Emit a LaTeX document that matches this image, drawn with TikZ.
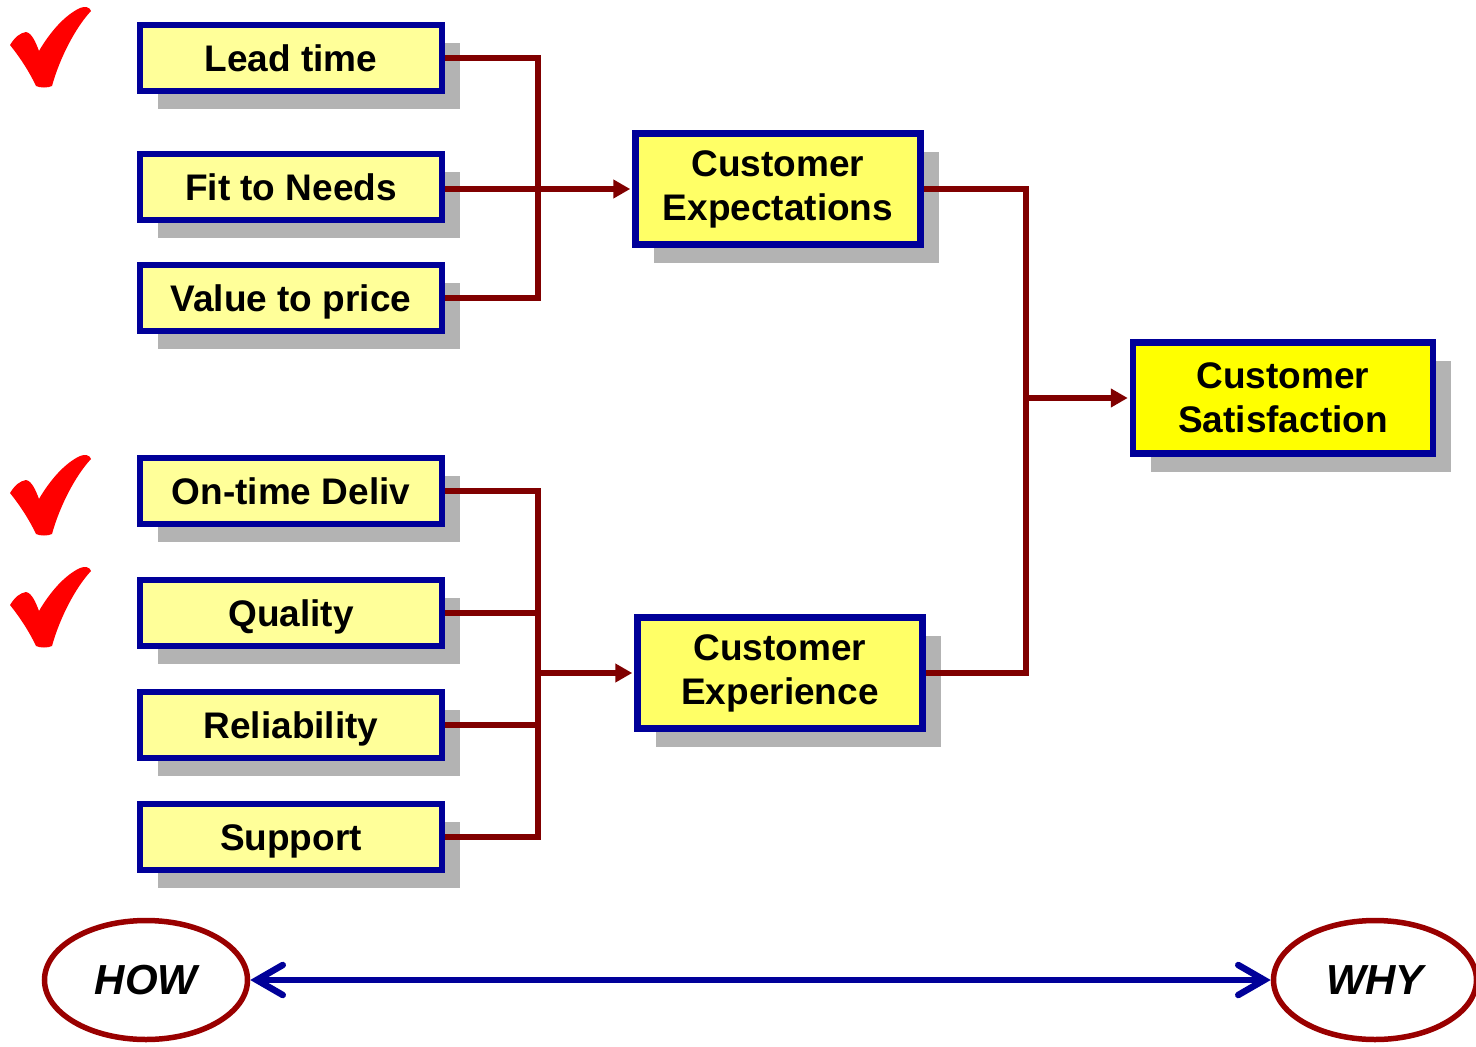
\documentclass[tikz,border=0pt]{standalone}
\usepackage{fontspec}
\setmainfont{Liberation Sans}
\usepackage{tikz}
\usetikzlibrary{arrows.meta,shapes.geometric,shadows}
\definecolor{boxblue}{HTML}{000099}
\definecolor{paleyellow}{HTML}{FFFF99}
\definecolor{midyellow}{HTML}{FFFF66}
\definecolor{fullyellow}{HTML}{FFFF00}
\definecolor{shadowgray}{HTML}{B3B3B3}
\definecolor{linkred}{HTML}{800000}
\definecolor{ovalred}{HTML}{990000}
\definecolor{tickred}{HTML}{FF0000}

\begin{document}
\begin{tikzpicture}[x=1pt, y=-1pt, line width=5pt,
        every node/.append style={font=\fontsize{37}{44}\selectfont\bfseries, align=center},
        checkmark/.pic={
          \fill[tickred] (0,38) .. controls (5,30) and (10,26) .. (16,25)
            .. controls (22,26) and (26,36) .. (29,44)
            .. controls (40,25) and (55,8) .. (70,1)
            .. controls (75,-1) and (80,0) .. (81,4)
            .. controls (66,20) and (50,50) .. (42,79)
            .. controls (38,81) and (30,81) .. (26,79)
            .. controls (18,62) and (8,48) .. (0,38) -- cycle;
        }]
      \tikzstyle{shadowed} = [draw=boxblue, line width=6.5pt, inner sep=0pt,
        drop shadow={shadow xshift=18pt, shadow yshift=-18pt, fill=shadowgray, opacity=1}]
      \tikzstyle{reason} = [shadowed, fill=paleyellow, minimum width=302pt, minimum height=66pt,
        text height=27pt, text depth=0pt]
      \tikzstyle{goal} = [shadowed, fill=midyellow, minimum width=285pt, minimum height=111pt]
      \tikzstyle{final} = [shadowed, fill=fullyellow, minimum width=300pt, minimum height=111pt]
      \tikzstyle{oval} = [ellipse, draw=ovalred, line width=5.5pt, minimum width=203pt, minimum height=119pt,
        font=\fontsize{42}{48}\selectfont\bfseries\itshape]
      \tikzstyle{link} = [draw=linkred, line width=5.5pt]
      \tikzstyle{feed} = [link, -{Triangle[length=17pt,width=18pt]}, shorten >=2pt]
      \tikzstyle{howwhy} = [draw=boxblue, line width=6.5pt,
        {Straight Barb[length=26pt,width=30pt,line cap=round]}-{Straight Barb[length=26pt,width=30pt,line cap=round]}]

      \useasboundingbox (0,0) rectangle (1476,1047);

      \pic at (10,7) {checkmark};
      \pic at (10,455) {checkmark};
      \pic at (10,567) {checkmark};

      \node (lead) [reason] at (291,58) {Lead time};
      \node (fit) [reason] at (291,187) {Fit to Needs};
      \node (value) [reason] at (291,298) {Value to price};
      \node (ontime) [reason] at (291,491) {On-time Deliv};
      \node (quality) [reason] at (291,613) {Quality};
      \node (reliab) [reason] at (291,725) {Reliability};
      \node (support) [reason] at (291,837) {Support};

      \node (expect) [goal] at (778,189) {Customer\\Expectations};
      \node (experience) [goal] at (780,673) {Customer\\Experience};
      \node (satisf) [final] at (1283,398) {Customer\\Satisfaction};

      \node (how) [oval] at (146,980) {HOW};
      \node (why) [oval] at (1375,980) {WHY};

      \coordinate (upper) at (538,189);
      \coordinate (lower) at (538,673);
      \coordinate (right) at (1026,398);

      \draw[link] (lead.east) -| (upper) |- (value.east);
      \draw[feed] (fit.east |- upper) -- (expect.west);

      \draw[link] (ontime.east) -| (lower) |- (support.east);
      \draw[link] (quality.east) -- (quality.east -| lower);
      \draw[link] (reliab.east) -- (reliab.east -| lower);
      \draw[feed] (lower) -- (experience.west);

      \draw[link] (expect.east) -| (right) |- (experience.east);
      \draw[feed] (right) -- (satisf.west);

      \draw[howwhy] (how) -- (why);
    \end{tikzpicture}
\end{document}
